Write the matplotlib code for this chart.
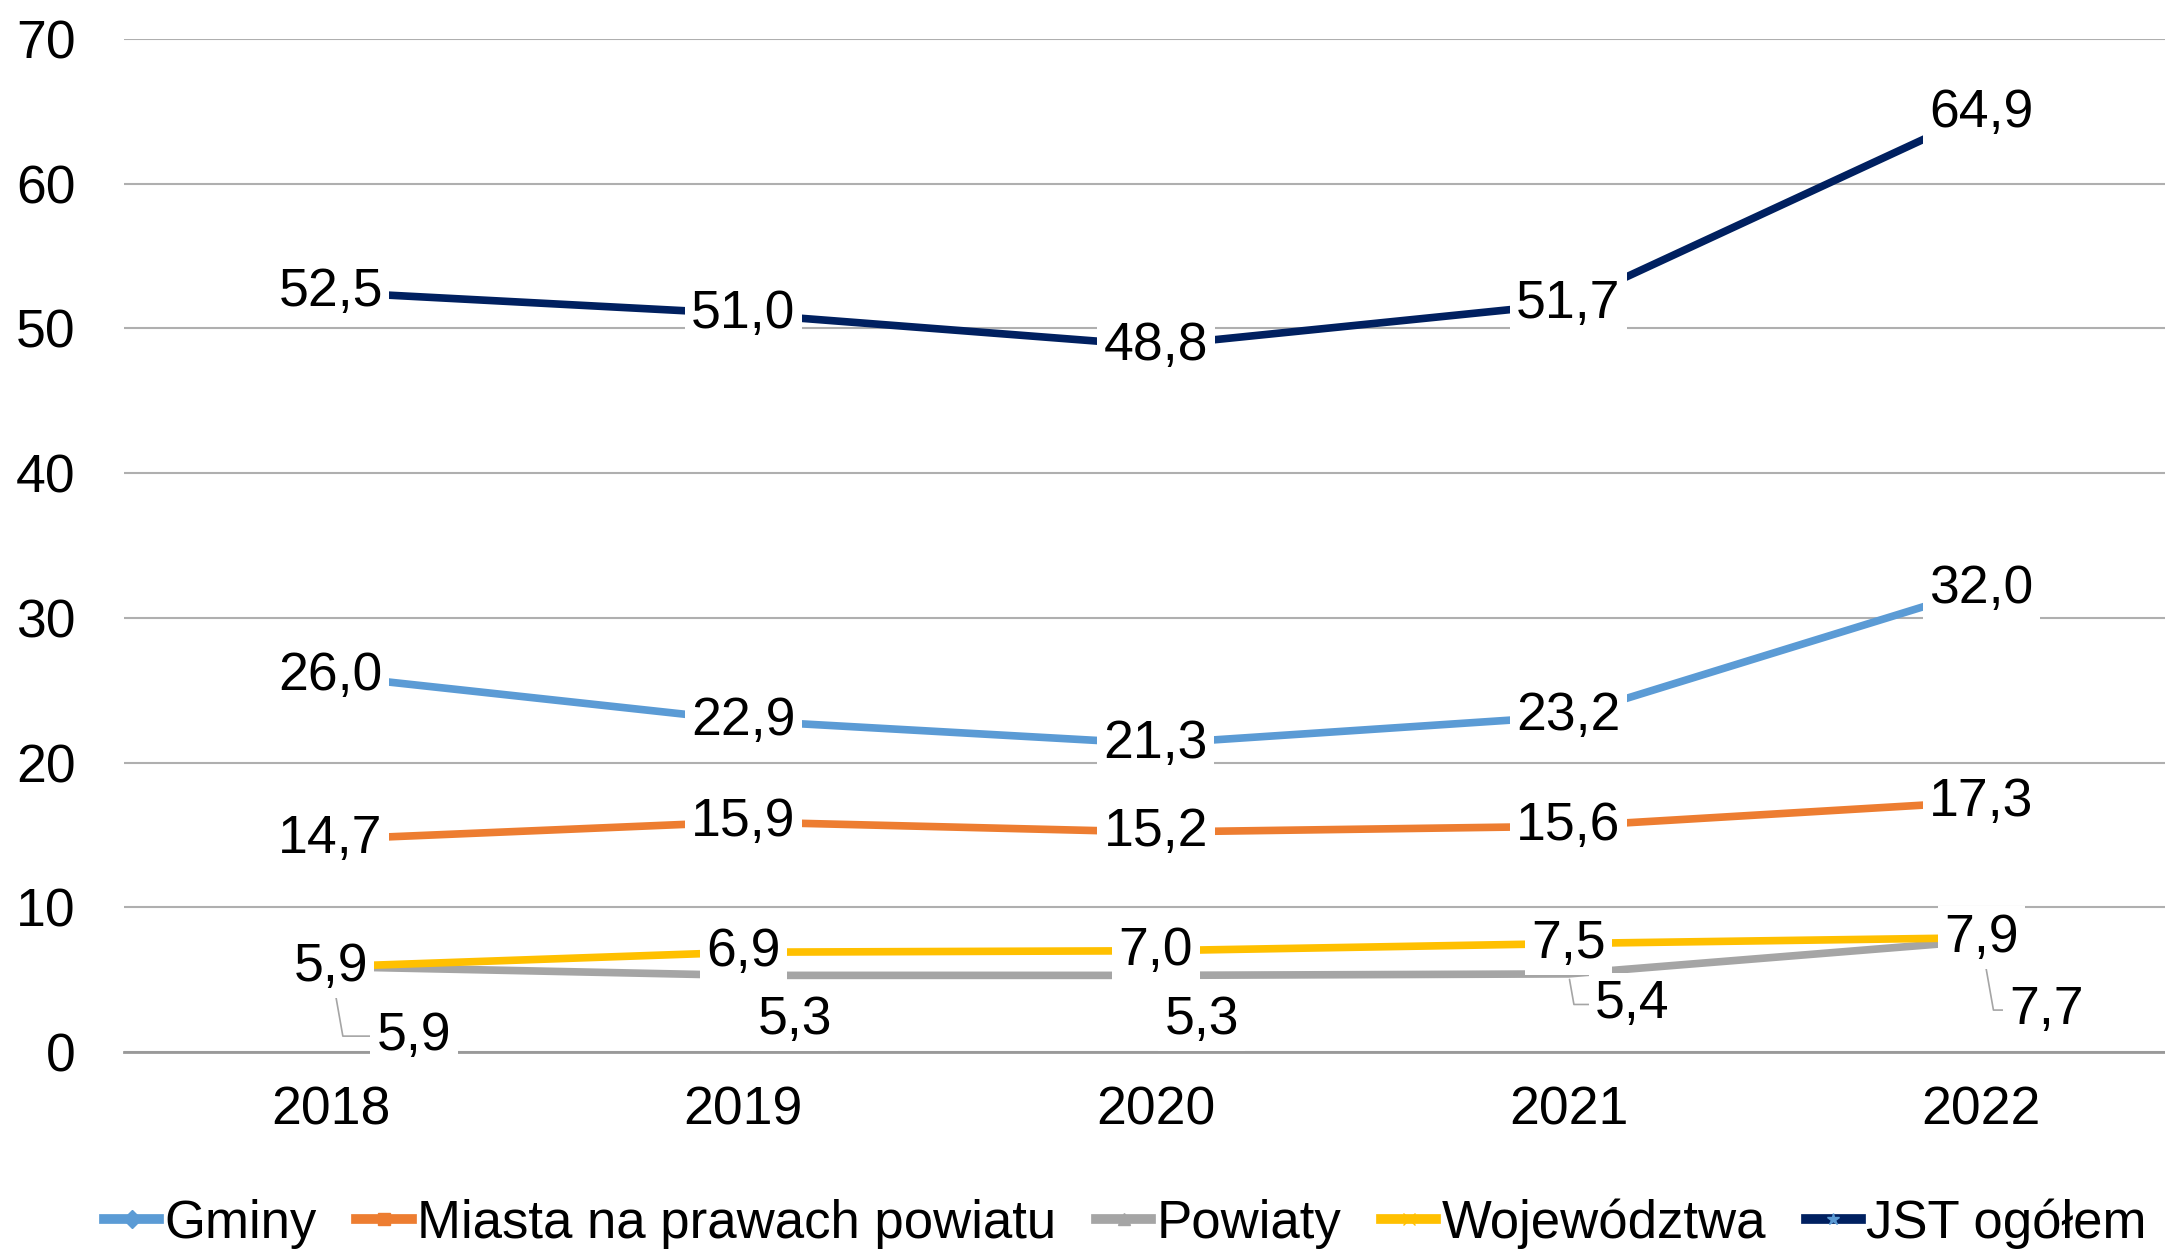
import matplotlib
matplotlib.use("Agg")
import matplotlib.pyplot as plt
from matplotlib.lines import Line2D

# data
years = ["2018", "2019", "2020", "2021", "2022"]
gminy = [26.0, 22.9, 21.3, 23.2, 32.0]
miasta = [14.7, 15.9, 15.2, 15.6, 17.3]
powiaty = [5.9, 5.3, 5.3, 5.4, 7.7]
wojewodztwa = [5.9, 6.9, 7.0, 7.5, 7.9]
jst = [52.5, 51.0, 48.8, 51.7, 64.9]
y_ticks = [0, 10, 20, 30, 40, 50, 60, 70]

series = [
    ("Gminy", gminy, "#5B9BD5", "D"),
    ("Miasta na prawach powiatu", miasta, "#ED7D31", "s"),
    ("Powiaty", powiaty, "#A5A5A5", "^"),
    ("Województwa", wojewodztwa, "#FFC000", "x"),
    ("JST ogółem", jst, "#002060", "*"),
]

# label offsets (points) for the Powiaty series, which sit below the line
powiaty_offsets = [(60, -50), (37, -32), (33, -32), (46, -22), (47, -50)]
powiaty_leader = [True, False, False, True, True]

plt.rcParams["font.family"] = ["Liberation Sans", "DejaVu Sans"]
FS = 38.5

fig = plt.figure(figsize=(21.65, 12.51), dpi=100)
# category axis runs a little past the right edge of the figure, like the source
ax = fig.add_axes([0.0574, 0.159, 0.953, 0.81])

x = list(range(len(years)))
box = dict(boxstyle="square,pad=0.12", fc="white", ec="none")

for name, vals, color, marker in series:
    ax.plot(x, vals, color=color, lw=5.5, solid_capstyle="butt", zorder=3)

for name, vals, color, marker in series:
    for i, v in enumerate(vals):
        txt = f"{v:.1f}".replace(".", ",")
        if name == "Powiaty":
            dx, dy = powiaty_offsets[i]
            arrow = None
            if powiaty_leader[i]:
                arrow = dict(arrowstyle="-", color="#A5A5A5", lw=1.2,
                             shrinkA=0, shrinkB=4, relpos=(0, 0.5),
                             connectionstyle="angle,angleA=0,angleB=100,rad=0")
            ax.annotate(txt, (i, v), xytext=(dx, dy), textcoords="offset points",
                        ha="center", va="center", fontsize=FS, bbox=box,
                        arrowprops=arrow, zorder=5)
        else:
            ax.annotate(txt, (i, v), xytext=(0, 0), textcoords="offset points",
                        ha="center", va="center", fontsize=FS, bbox=box, zorder=6)

ax.set_xlim(-0.5, 4.5)
ax.set_ylim(0, 70)
ax.set_yticks(y_ticks)
ax.set_xticks(x)
ax.set_xticklabels(years)
ax.tick_params(axis="both", length=0, labelsize=FS)
ax.tick_params(axis="y", pad=35)
ax.tick_params(axis="x", pad=24)
ax.grid(axis="y", color="#AFAFAF", lw=1.5, zorder=0)
ax.set_axisbelow(True)
for s in ["top", "right", "left"]:
    ax.spines[s].set_visible(False)
ax.spines["bottom"].set_color("#999999")
ax.spines["bottom"].set_linewidth(2)

handles = [Line2D([0], [0], color=c, lw=7, marker=m, markersize=9,
                  markerfacecolor=c if m != "*" else "#5B9BD5",
                  markeredgecolor=c if m != "*" else "#5B9BD5")
           for _, _, c, m in series]
labels = [s[0] for s in series]
fig.legend(handles, labels, loc="center left", bbox_to_anchor=(0.048, 0.022),
           ncol=5, frameon=False, fontsize=38, handlelength=1.05,
           handletextpad=0.1, columnspacing=0.75, borderpad=0, borderaxespad=0)

fig.savefig("out.png", dpi=100)
